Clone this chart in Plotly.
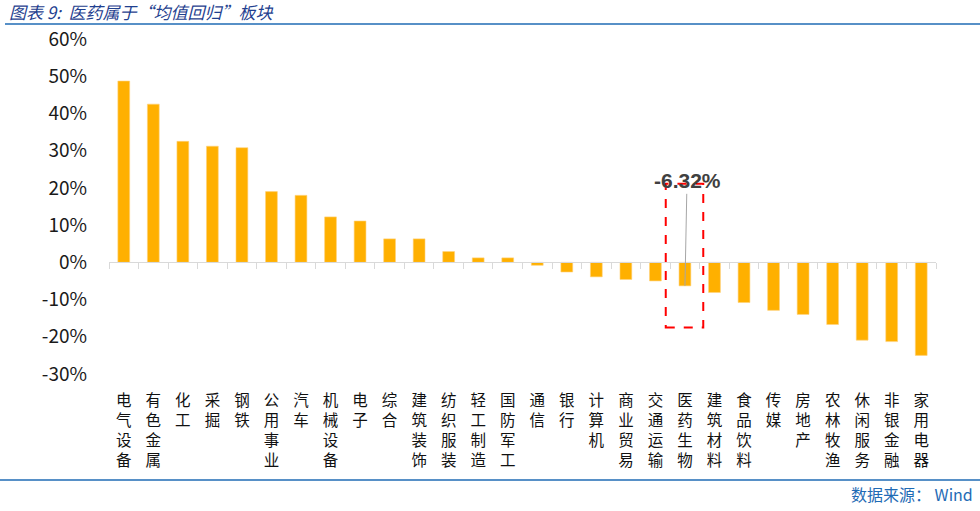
import plotly.graph_objects as go

categories = ["电气设备", "有色金属", "化工", "采掘", "钢铁", "公用事业", "汽车", "机械设备",
              "电子", "综合", "建筑装饰", "纺织服装", "轻工制造", "国防军工", "通信", "银行",
              "计算机", "商业贸易", "交通运输", "医药生物", "建筑材料", "食品饮料", "传媒",
              "房地产", "农林牧渔", "休闲服务", "非银金融", "家用电器"]
values = [48.7, 42.5, 32.5, 31.2, 30.8, 19.0, 18.0, 12.2, 11.1, 6.3, 6.3, 2.9, 1.2, 1.2,
          -0.8, -2.6, -3.9, -4.6, -5.0, -6.32, -8.1, -10.8, -12.9, -14.0, -16.7, -20.9,
          -21.3, -25.0]
y_ticks = [-30, -20, -10, 0, 10, 20, 30, 40, 50, 60]
highlight = "医药生物"
highlight_label = "-6.32%"
title_text = "图表 9:  医药属于“均值回归”板块"
source_text = "数据来源： Wind"

W, H = 980, 511
L, R, T, B = 109, 44, 39, 137
pw, ph = W - L - R, H - T - B


def px_x(px):
    return (px - L) / pw


def px_y(py):
    return (H - B - py) / ph


ymin, ymax = y_ticks[0], y_ticks[-1]
n = len(categories)
hi = categories.index(highlight)
hv = values[hi]

stacked = ["<br>".join(list(c)) for c in categories]

fig = go.Figure()
fig.add_trace(go.Bar(
    x=list(range(n)), y=values,
    marker=dict(color="#FFB000", line=dict(color="#FFD27A", width=0.6)),
    width=0.4, showlegend=False, hoverinfo="skip",
))
fig.add_trace(go.Scatter(
    x=list(range(n)), y=values, xaxis="x2", mode="markers",
    marker=dict(opacity=0), showlegend=False, hoverinfo="skip",
))

zero_pos = (0 - ymin) / (ymax - ymin)

fig.update_layout(
    width=W, height=H,
    margin=dict(l=L, r=R, t=T, b=B, autoexpand=False),
    paper_bgcolor="white", plot_bgcolor="white",
    font=dict(family="Noto Sans CJK SC, sans-serif", color="#1a1a1a"),
    xaxis=dict(
        range=[-0.5, n - 0.5], tickmode="array",
        tickvals=list(range(n)), ticktext=stacked, automargin=False,
        showline=False, showgrid=False, zeroline=False, ticks="",
        tickfont=dict(size=15.5, color="#111111"), ticklabelstandoff=15,
    ),
    xaxis2=dict(
        range=[-0.5, n - 0.5], overlaying="x", anchor="free", position=zero_pos,
        tickmode="array", tickvals=[i - 0.5 for i in range(n + 1)], automargin=False,
        showticklabels=False, showline=True, linecolor="#D9D9D9", linewidth=1.2,
        ticks="outside", ticklen=6, tickcolor="#D9D9D9", tickwidth=1.2,
        showgrid=False, zeroline=False,
    ),
    yaxis=dict(
        range=[ymin, ymax], tickmode="array", tickvals=y_ticks,
        ticktext=[f"{v}%" for v in y_ticks], automargin=False,
        showgrid=False, zeroline=False, showline=False, ticks="",
        tickfont=dict(size=19, color="#1a1a1a"), ticklabelstandoff=21,
    ),
    bargap=0.6,
)

# highlight box around the 医药生物 bar
fig.add_shape(type="rect", xref="x", yref="y",
              x0=hi - 0.65, x1=hi + 0.62, y0=-17.5, y1=21.1,
              line=dict(color="#FF0000", width=2, dash="dash"),
              fillcolor="rgba(0,0,0,0)")

fig.add_annotation(x=hi, y=hv, xref="x", yref="y",
                   ax=hi + 0.07, ay=21.9, axref="x", ayref="y",
                   text="<b>" + highlight_label + "</b>",
                   font=dict(size=21, color="#404040", family="Liberation Sans, Arial, sans-serif"),
                   showarrow=True, arrowhead=0, arrowwidth=1, arrowcolor="#A6A6A6",
                   standoff=0, startstandoff=0)

# header / footer decorations
fig.add_shape(type="line", xref="paper", yref="paper",
              x0=px_x(5), x1=px_x(980), y0=px_y(24), y1=px_y(24),
              line=dict(color="#1F6BB5", width=1.5))
fig.add_shape(type="line", xref="paper", yref="paper",
              x0=px_x(0), x1=px_x(980), y0=px_y(480), y1=px_y(480),
              line=dict(color="#1F6BB5", width=1.5))

fig.add_annotation(xref="paper", yref="paper", x=px_x(7), y=px_y(12),
                   xanchor="left", yanchor="middle", showarrow=False,
                   text="<i>" + title_text + "</i>",
                   font=dict(size=17, color="#1F3F8F", family="Noto Sans CJK SC, sans-serif"))
fig.add_annotation(xref="paper", yref="paper", x=px_x(975), y=px_y(494),
                   xanchor="right", yanchor="middle", showarrow=False,
                   text=source_text,
                   font=dict(size=16, color="#1F6BB5", family="Noto Sans CJK SC, sans-serif"))

fig.write_html("out.html", config={"displayModeBar": False},
               post_script="document.body.style.margin='0px';")
